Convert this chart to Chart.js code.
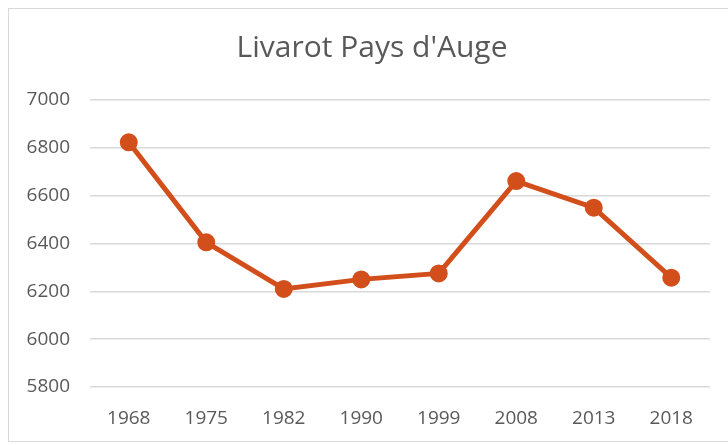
<!DOCTYPE html>
<html>
<head>
<meta charset="utf-8">
<script src="https://cdn.jsdelivr.net/npm/chart.js@4"></script>
<style>
  body { margin: 0; background: #fff; }
  #wrap { position: relative; width: 728px; height: 445px; }
  #frame { position: absolute; left: 8px; top: 8px; width: 730px; height: 434px;
           border: 1px solid #d9d9d9; border-right: none; box-sizing: border-box; }
  canvas { position: absolute; left: 0; top: 0; }
</style>
</head>
<body>
<div id="wrap">
  <div id="frame"></div>
  <canvas id="POP_CHART" width="728" height="445"></canvas>
</div>
<script>
const years = ['1968', '1975', '1982', '1990', '1999', '2008', '2013', '2018'];
const population = [6823, 6405, 6210, 6250, 6275, 6661, 6550, 6257];
const yTicks = [5800, 6000, 6200, 6400, 6600, 6800, 7000];

const orange = '#D24E1B';
const grey = '#595959';

// shift the title so it is centred like in the excel picture
const titleShift = {
    id: 'titleShift',
    afterLayout(chart) {
        const t = chart.titleBlock;
        if (t) { t.left = 34; t.right = 710; t.width = 676; }
    }
};

let popChart = new Chart(document.getElementById("POP_CHART").getContext("2d"), {
    type: 'line',
    data: {
        labels: years,
        datasets: [{
            label: "Livarot Pays d'Auge",
            data: population,
            borderColor: orange,
            backgroundColor: orange,
            borderWidth: 5,
            pointRadius: 6.5,
            pointHoverRadius: 6.5,
            tension: 0
        }]
    },
    options: {
        responsive: false,
        animation: false,
        layout: { padding: { left: 0, right: 18, top: 0, bottom: 0 } },
        plugins: {
            legend: { display: false },
            tooltip: { enabled: false },
            title: {
                display: true,
                text: "Livarot Pays d'Auge",
                color: grey,
                font: { family: 'Open Sans', size: 30, weight: 'normal' },
                padding: { top: 30, bottom: 34 }
            }
        },
        scales: {
            x: {
                offset: true,
                grid: { display: false, drawTicks: false },
                border: { display: false },
                ticks: { color: grey, font: { family: 'Open Sans', size: 19 }, padding: 20 },
                afterFit: (scale) => { scale.height = 58; }
            },
            y: {
                min: yTicks[0],
                max: yTicks[yTicks.length - 1],
                afterBuildTicks: (scale) => { scale.ticks = yTicks.map(v => ({ value: v })); },
                grid: { color: '#d9d9d9', lineWidth: 1.5, drawTicks: false },
                border: { display: false },
                ticks: {
                    color: grey,
                    font: { family: 'Open Sans', size: 19 },
                    padding: 20,
                    callback: (v) => String(v)
                },
                afterFit: (scale) => { scale.width = 90; }
            }
        }
    },
    plugins: [titleShift]
});
</script>
</body>
</html>
